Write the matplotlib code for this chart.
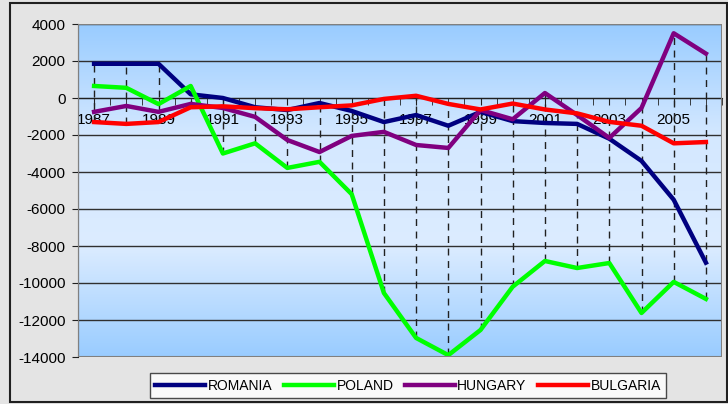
import matplotlib.pyplot as plt
import numpy as np
from matplotlib.patches import Rectangle
from matplotlib.colors import LinearSegmentedColormap

plt.rcParams['font.family'] = ['Liberation Sans', 'DejaVu Sans']

# Data
years = list(range(1987, 2007))
romania = [1850, 1850, 1850, 200, 0, -500, -650, -270, -700, -1300,
           -920, -1500, -750, -1250, -1350, -1400, -2200, -3400, -5500, -8900]
poland = [650, 550, -330, 650, -3000, -2450, -3780, -3450, -5200, -10540,
          -12970, -13900, -12540, -10200, -8810, -9190, -8920, -11620, -9940, -10860]
hungary = [-750, -430, -750, -320, -540, -1020, -2270, -2920, -2050, -1830,
           -2540, -2700, -650, -1150, 270, -920, -2160, -540, 3500, 2400]
bulgaria = [-1300, -1400, -1300, -500, -450, -550, -610, -500, -400, -50,
            120, -320, -620, -300, -620, -830, -1290, -1500, -2450, -2380]

series = [('ROMANIA', romania, '#000080'),
          ('POLAND', poland, '#00ff00'),
          ('HUNGARY', hungary, '#800080'),
          ('BULGARIA', bulgaria, '#ff0000')]

yticks = list(range(-14000, 4001, 2000))
xlabels = [y for y in years if y % 2 == 1]

# Figure with grey background and outer border
fig = plt.figure(figsize=(7.28, 4.04), dpi=100)
fig.patch.set_facecolor('#e4e4e4')
fig.add_artist(Rectangle((10 / 728, 2 / 404), 717 / 728, 399 / 404,
                         transform=fig.transFigure, fill=False,
                         edgecolor='#202020', linewidth=1.5))

ax = fig.add_axes([78 / 728, 1 - 357 / 404, 644 / 728, 333 / 404])
ax.set_xlim(1986.5, 2006.5)

# Plot area gradient (blue - pale - blue)
cmap = LinearSegmentedColormap.from_list('bg', ['#99ccff', '#dcecff', '#d4e8ff', '#99ccff'])
grad = np.linspace(0, 1, 256).reshape(-1, 1)
ax.imshow(grad, cmap=cmap, aspect='auto', extent=[1986.5, 2006.5, 4000, -14000],
          zorder=0)
ax.set_ylim(-14000, 4000)

# Horizontal gridlines
for yv in yticks:
    ax.axhline(yv, color='#303030', linewidth=1, zorder=1)

# Drop lines from highest to lowest value per year
allv = np.array([romania, poland, hungary, bulgaria])
ax.vlines(years, allv.min(axis=0), allv.max(axis=0), colors='#202020',
          linestyles=(0, (5, 4)), linewidth=1, zorder=2)

for name, vals, col in series:
    ax.plot(years, vals, color=col, linewidth=3.2, label=name, zorder=3)

# Axes styling
for s in ['top', 'right']:
    ax.spines[s].set_visible(False)
ax.spines['bottom'].set_position(('data', 0))
ax.spines['bottom'].set_color('#202020')
ax.spines['left'].set_color('#202020')
ax.add_patch(Rectangle((0, 0), 1, 1, transform=ax.transAxes, fill=False,
                       edgecolor='#808080', linewidth=1.5, zorder=4))

ax.set_yticks(yticks)
ax.set_yticklabels([str(v) for v in yticks], fontsize=11)
ax.tick_params(axis='y', direction='out', length=4, color='#202020', pad=5)

ax.set_xticks(xlabels)
ax.set_xticklabels([str(v) for v in xlabels], fontsize=11)
ax.set_xticks(np.arange(1987, 2006.6, 0.5), minor=True)
ax.tick_params(axis='x', which='both', direction='out', length=5,
               color='#202020', pad=6)

leg = ax.legend(loc='upper center', bbox_to_anchor=((408 - 78) / 644, -0.028),
                ncol=4, frameon=True, fancybox=False, fontsize=10,
                handlelength=3.6, handletextpad=0.2, columnspacing=0.8,
                borderpad=0.4, edgecolor='#202020')
leg.get_frame().set_linewidth(1)

fig.savefig('out.png', dpi=100, facecolor=fig.get_facecolor())
